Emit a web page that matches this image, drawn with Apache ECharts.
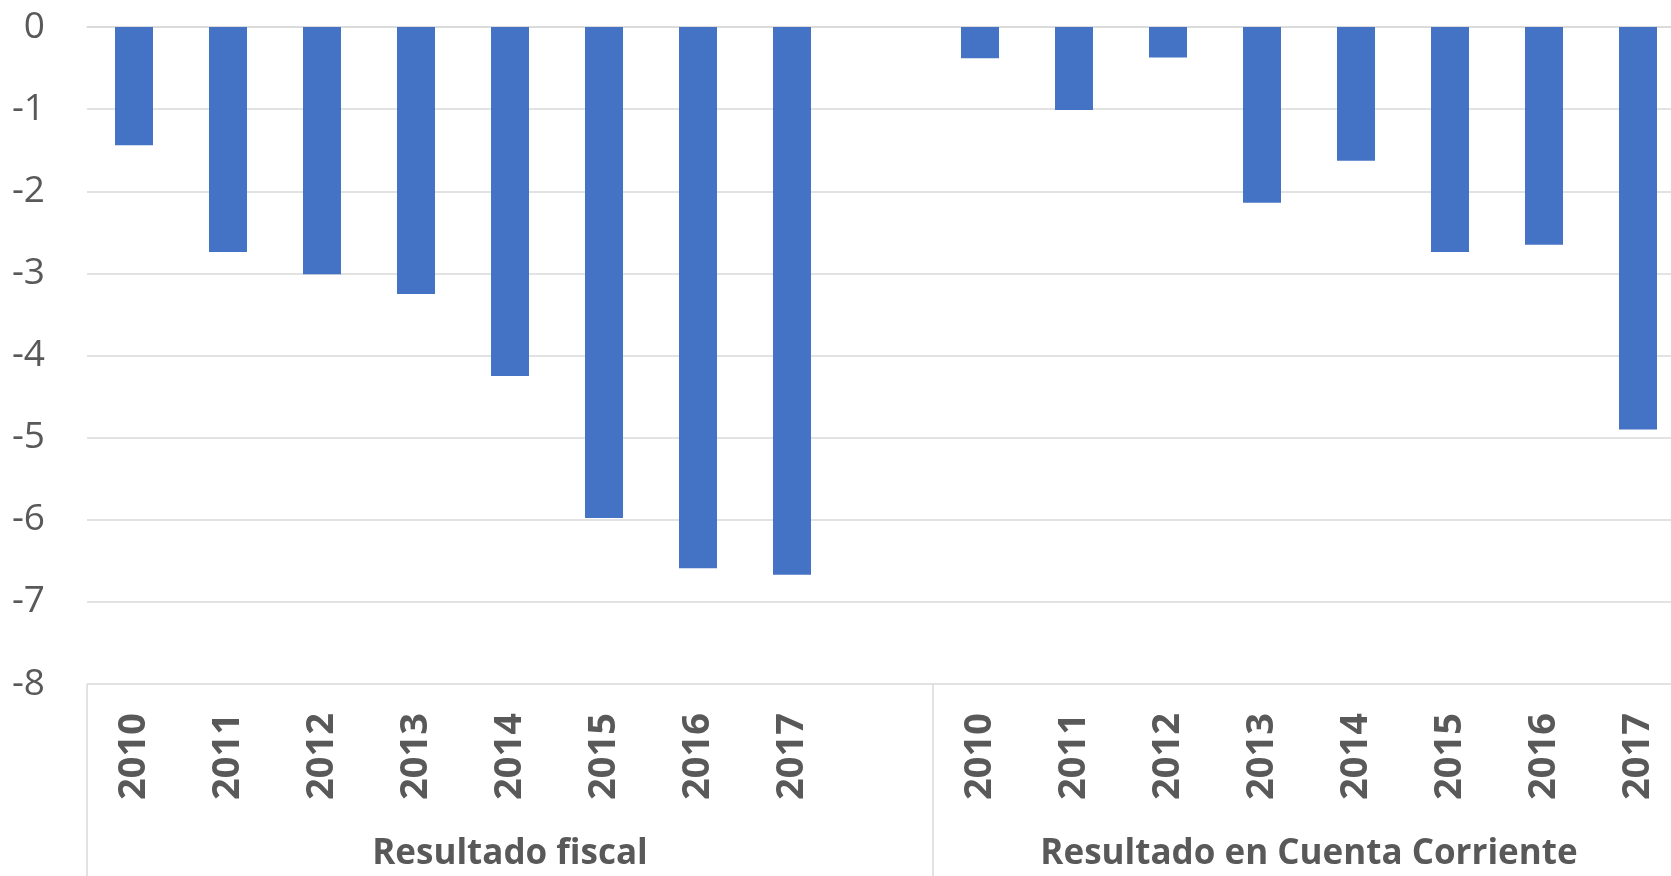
<!DOCTYPE html>
<html>
<head>
<meta charset="utf-8">
<script src="https://cdn.jsdelivr.net/npm/echarts@6/dist/echarts.min.js"></script>
<style>
  html, body { margin: 0; padding: 0; background: #fff; }
  #chart { width: 1671px; height: 876px; }
</style>
</head>
<body>
<div id="chart"></div>
<script>
// datos
var years = ['2010', '2011', '2012', '2013', '2014', '2015', '2016', '2017'];
var groups = ['Resultado fiscal', 'Resultado en Cuenta Corriente'];
var fiscal = [-1.44, -2.74, -3.01, -3.25, -4.25, -5.98, -6.59, -6.67];
var cuenta = [-0.38, -1.01, -0.37, -2.14, -1.63, -2.74, -2.65, -4.90];
var yTicks = [0, -1, -2, -3, -4, -5, -6, -7, -8];

// un hueco vacio entre los dos grupos
var categories = years.concat([''], years);
var values = fiscal.concat([null], cuenta);
var n = categories.length;

var chart = echarts.init(document.getElementById('chart'));
var gray = '#595959';
var lineGray = '#d9d9d9';

var option = {
  animation: false,
  // el grafico original queda cortado por la derecha
  grid: { left: 87, right: -14, top: 27, bottom: 192, outerBoundsMode: 'none', containLabel: false },
  xAxis: [{
    type: 'category',
    data: categories,
    axisLine: { show: true, lineStyle: { color: lineGray, width: 1.5 } },
    axisTick: { show: false },
    axisLabel: {
      interval: 0,
      rotate: 90,
      margin: 29,
      color: gray,
      fontFamily: 'Open Sans',
      fontWeight: 'bold',
      fontSize: 38
    }
  }, {
    type: 'value',
    position: 'bottom',
    min: 0,
    max: n,
    axisLine: { show: false },
    splitLine: { show: false },
    axisTick: {
      show: true,
      length: 200,
      customValues: [0, years.length + 1, n],
      lineStyle: { color: lineGray, width: 1.5 }
    },
    axisLabel: {
      customValues: [(years.length + 1) / 2, years.length + 1 + years.length / 2],
      formatter: function (v) { return v < years.length + 1 ? groups[0] : groups[1]; },
      margin: 170,
      verticalAlign: 'middle',
      color: gray,
      fontFamily: 'Open Sans',
      fontWeight: 'bold',
      fontSize: 35
    }
  }],
  yAxis: {
    type: 'value',
    min: yTicks[yTicks.length - 1],
    max: yTicks[0],
    interval: 1,
    axisLine: { show: false },
    axisTick: { show: false },
    splitLine: { lineStyle: { color: lineGray, width: 1.5 } },
    axisLabel: {
      margin: 42,
      color: gray,
      fontFamily: 'Open Sans',
      fontSize: 37
    }
  },
  series: [{
    type: 'bar',
    xAxisIndex: 0,
    data: values,
    barWidth: 38,
    itemStyle: { color: '#4472c4' }
  }]
};
chart.setOption(option);
</script>
</body>
</html>
